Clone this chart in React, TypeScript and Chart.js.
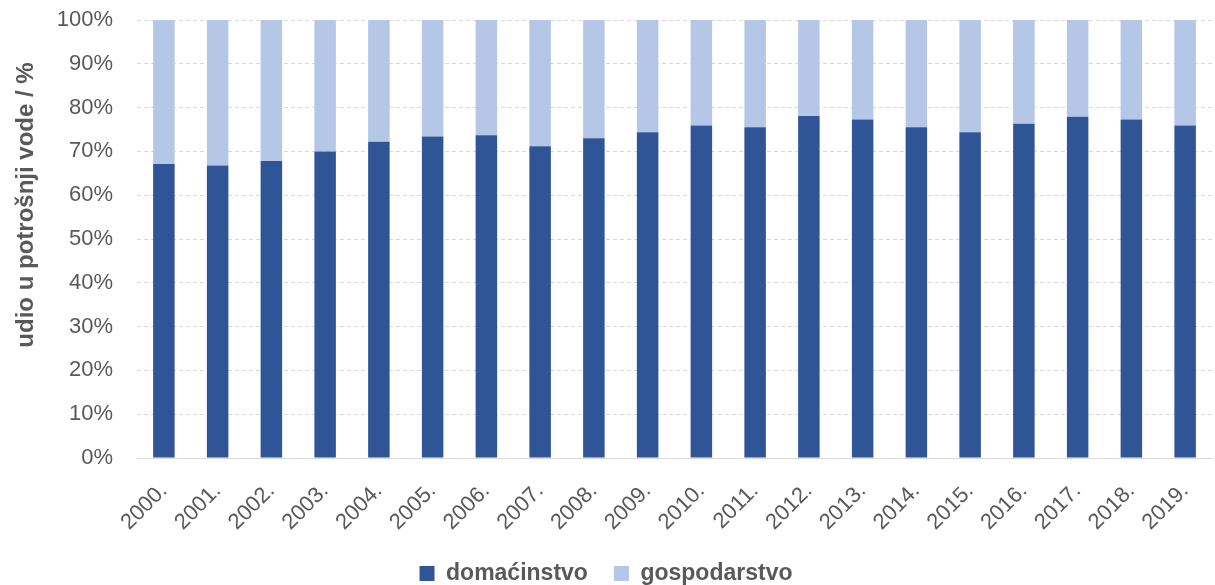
import React, { useEffect, useRef } from "react";
import { Chart, registerables } from "chart.js";

Chart.register(...registerables);

const years = ["2000.", "2001.", "2002.", "2003.", "2004.", "2005.", "2006.", "2007.", "2008.", "2009.", "2010.", "2011.", "2012.", "2013.", "2014.", "2015.", "2016.", "2017.", "2018.", "2019."];
const domacinstvo = [67.1, 66.8, 67.8, 70.0, 72.2, 73.4, 73.7, 71.2, 73.0, 74.4, 75.9, 75.5, 78.1, 77.3, 75.5, 74.4, 76.3, 77.9, 77.3, 75.9];
const gospodarstvo = [32.9, 33.2, 32.2, 30.0, 27.8, 26.6, 26.3, 28.8, 27.0, 25.6, 24.1, 24.5, 21.9, 22.7, 24.5, 25.6, 23.7, 22.1, 22.7, 24.1];
const yTitle = "udio u potrošnji vode / %";

const FONT = "'Liberation Sans', Arial, sans-serif";
const LEGEND_H = 49;

const legendFix = {
  id: "legendFix",
  beforeLayout(chart: any) {
    const lg = chart.legend;
    if (lg && !lg._patched) {
      const f = lg.fit.bind(lg);
      lg.fit = function () {
        f();
        this.height = LEGEND_H;
      };
      lg._patched = true;
    }
  },
};

const yTitlePlugin = {
  id: "yTitlePlugin",
  afterDraw(chart: any) {
    const ctx = chart.ctx;
    ctx.save();
    ctx.translate(26, 205);
    ctx.rotate(-Math.PI / 2);
    ctx.textAlign = "center";
    ctx.textBaseline = "middle";
    ctx.fillStyle = "#595959";
    ctx.font = "bold 24px " + FONT;
    ctx.fillText(yTitle, 0, 0);
    ctx.restore();
  },
};

export default function App() {
  const ref = useRef<HTMLCanvasElement>(null);
  useEffect(() => {
    document.body.style.margin = "0";
    const chart = new Chart(ref.current!, {
      type: "bar",
      data: {
        labels: years,
        datasets: [
          { label: "domaćinstvo", data: domacinstvo, backgroundColor: "#2F5597", barPercentage: 0.4, categoryPercentage: 1 },
          { label: "gospodarstvo", data: gospodarstvo, backgroundColor: "#B4C7E7", barPercentage: 0.4, categoryPercentage: 1 },
        ],
      },
      plugins: [legendFix, yTitlePlugin],
      options: {
        animation: false,
        responsive: false,
        maintainAspectRatio: false,
        layout: { padding: { top: 20, right: 3, bottom: 0, left: 0 } },
        plugins: {
          tooltip: { enabled: false },
          legend: {
            position: "bottom",
            labels: {
              boxWidth: 15,
              boxHeight: 15,
              padding: 26,
              color: "#595959",
              font: { family: FONT, size: 23, weight: "bold" },
            },
          },
        },
        scales: {
          x: {
            stacked: true,
            grid: { display: false, drawTicks: false },
            border: { display: true, color: "#D9D9D9" },
            ticks: {
              color: "#595959",
              font: { family: FONT, size: 22 },
              maxRotation: 45,
              minRotation: 45,
              padding: 20,
            },
            afterFit: (s: any) => {
              s.height = 585 - LEGEND_H - 458;
              s.paddingLeft = 0;
              s.paddingRight = 0;
            },
          },
          y: {
            stacked: true,
            min: 0,
            max: 100,
            grid: { color: "#D9D9D9", drawTicks: false },
            border: { display: false, dash: [4, 3] },
            ticks: {
              stepSize: 10,
              color: "#595959",
              padding: 24,
              font: { family: FONT, size: 22 },
              callback: (v: any) => v + "%",
            },
            afterFit: (s: any) => {
              s.width = 137;
              s.paddingTop = 0;
              s.paddingBottom = 0;
            },
          },
        },
      },
    });
    return () => chart.destroy();
  }, []);
  return (
    <div style={{ width: 1215, height: 585 }}>
      <canvas ref={ref} width={1215} height={585} style={{ display: "block" }} />
    </div>
  );
}
